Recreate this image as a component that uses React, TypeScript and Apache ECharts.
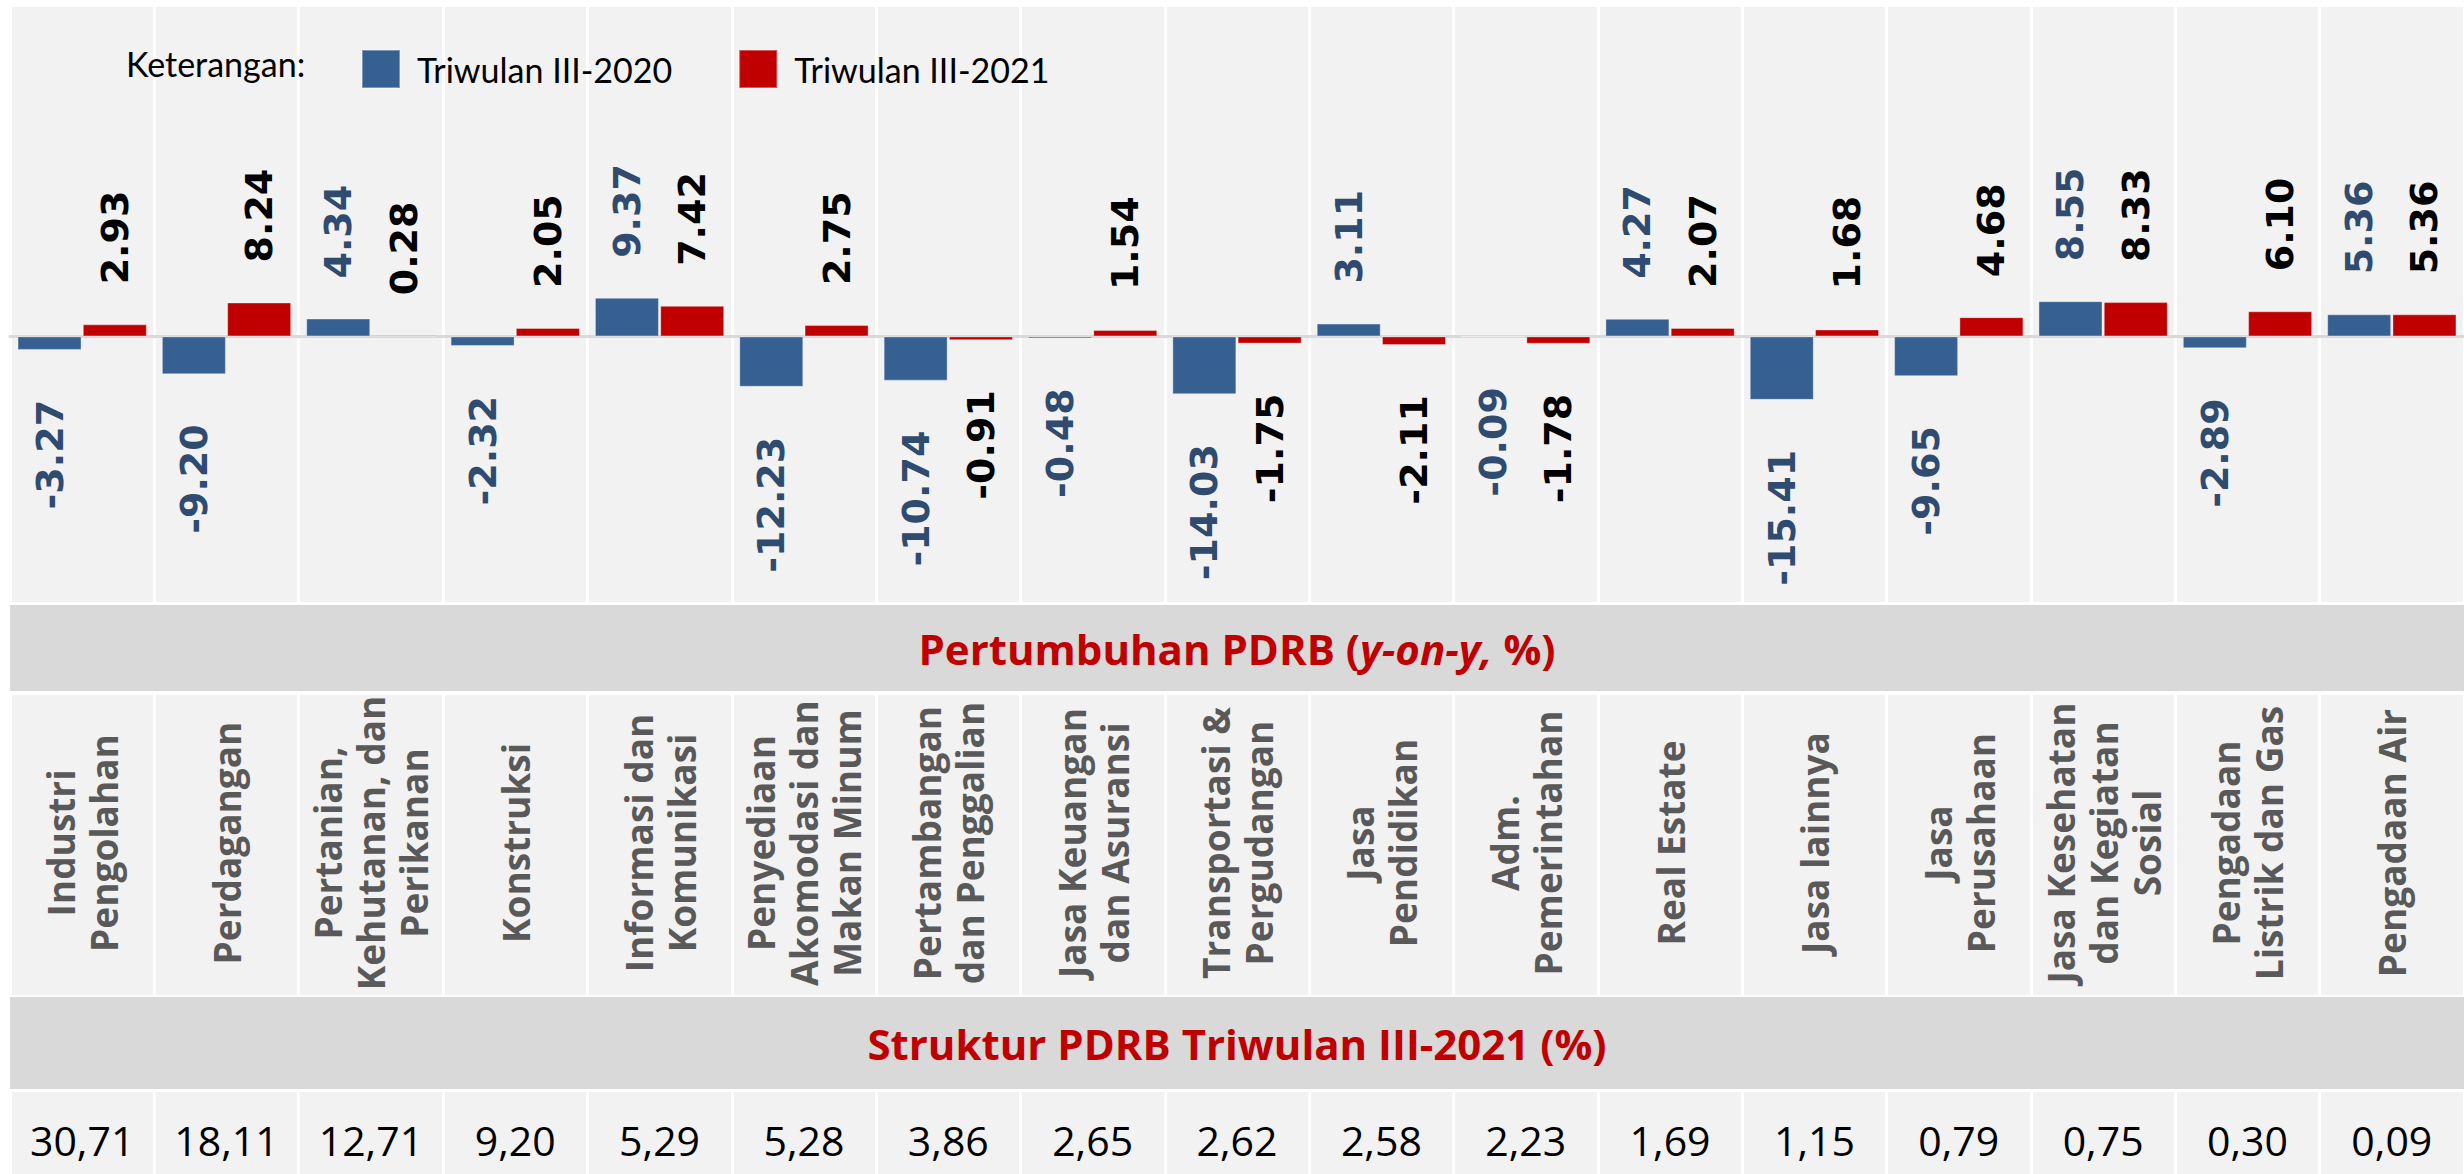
import React, { useEffect, useRef } from "react";
import * as echarts from "echarts";

const categories = [
  "Industri\nPengolahan",
  "Perdagangan",
  "Pertanian,\nKehutanan, dan\nPerikanan",
  "Konstruksi",
  "Informasi dan\nKomunikasi",
  "Penyediaan\nAkomodasi dan\nMakan Minum",
  "Pertambangan\ndan Penggalian",
  "Jasa Keuangan\ndan Asuransi",
  "Transportasi &\nPergudangan",
  "Jasa\nPendidikan",
  "Adm.\nPemerintahan",
  "Real Estate",
  "Jasa lainnya",
  "Jasa\nPerusahaan",
  "Jasa Kesehatan\ndan Kegiatan\nSosial",
  "Pengadaan\nListrik dan Gas",
  "Pengadaan Air",
];

const growth2020 = [-3.27, -9.2, 4.34, -2.32, 9.37, -12.23, -10.74, -0.48, -14.03, 3.11, -0.09, 4.27, -15.41, -9.65, 8.55, -2.89, 5.36];
const growth2021 = [2.93, 8.24, 0.28, 2.05, 7.42, 2.75, -0.91, 1.54, -1.75, -2.11, -1.78, 2.07, 1.68, 4.68, 8.33, 6.1, 5.36];
const shares2021 = [30.71, 18.11, 12.71, 9.2, 5.29, 5.28, 3.86, 2.65, 2.62, 2.58, 2.23, 1.69, 1.15, 0.79, 0.75, 0.3, 0.09];

const seriesNames = ["Triwulan III-2020", "Triwulan III-2021"];
const legendTitle = "Keterangan:";
const growthTitle = ["Pertumbuhan PDRB (", "y-on-y,", " %)"];
const structureTitle = "Struktur PDRB Triwulan III-2021 (%)";

const BLUE = "#376092";
const RED = "#c00000";
const PANEL = "#f2f2f2";
const BAND = "#d9d9d9";

function barData(values: number[]) {
  return values.map((v) => ({
    value: v,
    label: {
      position: v >= 0 ? "top" : "bottom",
      align: v >= 0 ? "left" : "right",
      distance: v >= 0 ? 40 : 50,
    },
  }));
}

export default function App() {
  const ref = useRef<HTMLDivElement>(null);

  useEffect(() => {
    if (!ref.current) return;
    const chart = echarts.init(ref.current, undefined, { renderer: "svg" });

    const labelCommon = {
      show: true,
      rotate: 90,
      verticalAlign: "middle",
      fontFamily: "DejaVu Sans",
      fontWeight: "bold",
      fontSize: 38,
      formatter: (p: any) => Number(p.value).toFixed(2),
    };

    const white = { color: "#ffffff", width: 3 };

    const option: any = {
      animation: false,
      backgroundColor: "#ffffff",
      legend: {
        data: seriesNames,
        left: 356,
        top: 44,
        itemWidth: 38,
        itemHeight: 38,
        itemGap: 66,
        icon: "rect",
        selectedMode: false,
        z: 20,
        textStyle: {
          fontFamily: "Lato",
          fontSize: 34,
          color: "#000",
          padding: [0, 0, 0, 12],
        },
      },
      grid: [
        { left: 10, right: 0, top: 7, height: 595, show: true, backgroundColor: PANEL, borderWidth: 0 },
        { left: 10, right: 0, top: 695, height: 300, show: true, backgroundColor: PANEL, borderWidth: 0 },
        { left: 10, right: 0, top: 1092, height: 82, show: true, backgroundColor: PANEL, borderWidth: 0 },
      ],
      xAxis: [
        {
          gridIndex: 0,
          type: "category",
          data: categories,
          axisLabel: { show: false, interval: 0 },
          axisTick: { show: false },
          axisLine: { show: true, onZero: true, lineStyle: { color: BAND, width: 3 } },
          splitLine: { show: true, interval: 0, lineStyle: white },
        },
        {
          gridIndex: 1,
          type: "category",
          data: categories,
          position: "bottom",
          axisLine: { show: false },
          axisTick: { show: false },
          splitLine: { show: true, interval: 0, lineStyle: white },
          axisLabel: {
            interval: 0,
            rotate: 90,
            align: "center",
            verticalAlign: "middle",
            margin: -152,
            color: "#595959",
            fontFamily: "Open Sans",
            fontWeight: "bold",
            fontSize: 37,
            lineHeight: 43,
          },
        },
        {
          gridIndex: 2,
          type: "category",
          data: shares2021.map((v) => v.toFixed(2).replace(".", ",")),
          position: "bottom",
          axisLine: { show: false },
          axisTick: { show: false },
          splitLine: { show: true, interval: 0, lineStyle: white },
          axisLabel: {
            interval: 0,
            verticalAlign: "middle",
            margin: -34,
            color: "#000",
            fontFamily: "Open Sans",
            fontSize: 41,
          },
        },
      ],
      yAxis: [
        { gridIndex: 0, type: "value", min: -64.5, max: 80, show: false, splitLine: { show: false } },
        { gridIndex: 1, type: "value", min: 0, max: 1, show: false },
        { gridIndex: 2, type: "value", min: 0, max: 1, show: false },
      ],
      series: [
        {
          name: seriesNames[0],
          type: "bar",
          xAxisIndex: 0,
          yAxisIndex: 0,
          barWidth: 64,
          barGap: "2%",
          data: barData(growth2020),
          itemStyle: { color: BLUE, borderColor: "rgba(255,255,255,0.35)", borderWidth: 1 },
          label: { ...labelCommon, color: "#2f4b6f" },
        },
        {
          name: seriesNames[1],
          type: "bar",
          xAxisIndex: 0,
          yAxisIndex: 0,
          barWidth: 64,
          data: barData(growth2021),
          itemStyle: { color: RED, borderColor: "rgba(255,255,255,0.35)", borderWidth: 1 },
          label: { ...labelCommon, color: "#000000" },
        },
      ],
      graphic: [
        {
          type: "text",
          left: 126,
          top: 44,
          z: 100,
          style: {
            text: legendTitle,
            fontFamily: "Lato",
            fontSize: 34,
            fill: "#000",
            lineHeight: 38,
          },
        },
        { type: "rect", z: 100, shape: { x: 10, y: 605, width: 2454, height: 86 }, style: { fill: BAND } },
        {
          type: "text",
          z: 101,
          x: 1237,
          y: 648,
          style: {
            text: `{a|${growthTitle[0]}}{b|${growthTitle[1]}}{a|${growthTitle[2]}}`,
            align: "center",
            verticalAlign: "middle",
            rich: {
              a: { fontFamily: "Open Sans", fontWeight: "bold", fontSize: 42, fill: RED },
              b: { fontFamily: "Open Sans", fontWeight: "bold", fontStyle: "italic", fontSize: 42, fill: RED },
            },
          },
        },
        { type: "rect", z: 100, shape: { x: 10, y: 997, width: 2454, height: 92 }, style: { fill: BAND } },
        {
          type: "text",
          z: 101,
          x: 1237,
          y: 1043,
          style: {
            text: structureTitle,
            align: "center",
            verticalAlign: "middle",
            fontFamily: "Open Sans",
            fontWeight: "bold",
            fontSize: 42,
            fill: RED,
          },
        },
      ],
    };

    chart.setOption(option);
    return () => chart.dispose();
  }, []);

  return (
    <div
      ref={ref}
      style={{ position: "absolute", left: 0, top: 0, width: 2464, height: 1174, background: "#fff" }}
    />
  );
}
